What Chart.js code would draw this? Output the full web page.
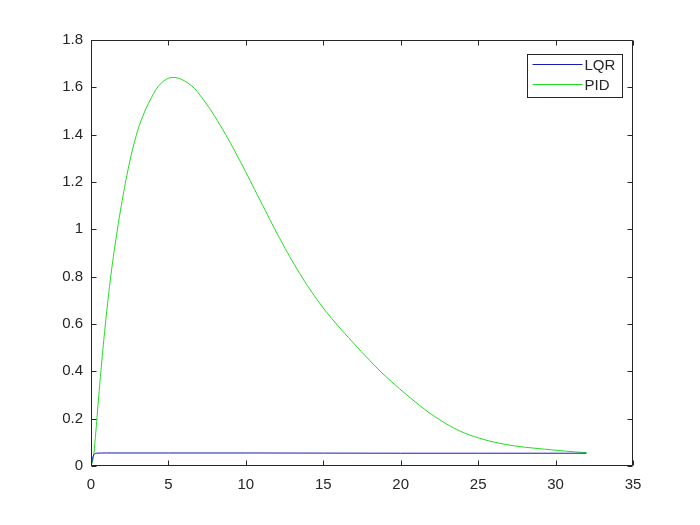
<!DOCTYPE html>
<html>
<head>
<title>LQR vs PID response</title>
<script src="https://cdn.jsdelivr.net/npm/chart.js"></script>
<style>
  body { margin: 0; background: #fff; }
</style>
</head>
<body>
<canvas id="resp" width="700" height="525"></canvas>
<script>
// values
const seriesNames = ['LQR', 'PID'];
const seriesColors = ['#1a1ab4', '#22dd22'];

const lqrT = [0, 0.13, 0.34, 1, 5, 10, 15, 20, 25, 32];
const lqrY = [0, 0.04, 0.054, 0.055, 0.055, 0.055, 0.0545, 0.054, 0.054, 0.054];

const pidT = [0, 0.13, 0.28, 0.45, 0.67, 0.88, 1.1, 1.36, 1.7, 1.96, 2.39, 2.82, 3.25, 3.9, 4.54,
  5.3, 6.26, 7.04, 8.33, 9.62, 10.91, 12.2, 13.49, 14.78, 15.85, 16.93, 18.0, 19.09, 21.24, 22.53, 23.82,
  25.11, 26.4, 27.7, 29.0, 30.3, 31.57, 32];
const pidY = [0, 0.025, 0.12, 0.256, 0.423, 0.568, 0.704, 0.844, 0.997, 1.101, 1.252, 1.372, 1.462, 1.556, 1.618,
  1.642, 1.618, 1.567, 1.441, 1.289, 1.124, 0.96, 0.812, 0.687, 0.6, 0.521, 0.446, 0.375, 0.255, 0.195, 0.148,
  0.117, 0.096, 0.082, 0.073, 0.065, 0.058, 0.056];

const xTicks = [0, 5, 10, 15, 20, 25, 30, 35];
const yTicks = [0, 0.2, 0.4, 0.6, 0.8, 1, 1.2, 1.4, 1.6, 1.8];

const axisColor = '#262626';
const fontSpec = { family: 'Liberation Sans, Arial, sans-serif', size: 15 };

function toPoints(ts, ys) {
  return ts.map((t, i) => ({ x: t, y: ys[i] }));
}

// box, inward ticks on all four sides, legend inside the axes
const matlabAxes = {
  id: 'matlabAxes',
  afterDatasetsDraw(chart) {
    const { ctx, chartArea: a, scales: { x, y } } = chart;
    const L = Math.round(a.left) + 0.5, R = Math.round(a.right) - 0.5;
    const T = Math.round(a.top) + 0.5, B = Math.round(a.bottom) - 0.5;
    ctx.save();
    ctx.strokeStyle = axisColor;
    ctx.lineWidth = 1;
    ctx.beginPath();
    ctx.rect(L, T, R - L, B - T);
    xTicks.forEach(v => {
      const px = Math.round(x.getPixelForValue(v)) + 0.5;
      ctx.moveTo(px, B); ctx.lineTo(px, B - 5);
      ctx.moveTo(px, T); ctx.lineTo(px, T + 5);
    });
    yTicks.forEach(v => {
      const py = Math.round(y.getPixelForValue(v)) + 0.5;
      ctx.moveTo(L, py); ctx.lineTo(L + 5, py);
      ctx.moveTo(R, py); ctx.lineTo(R - 5, py);
    });
    ctx.stroke();

    // legend
    const bw = 95, bh = 43;
    const bx = Math.round(a.right) - 11 - bw + 0.5;
    const by = Math.round(a.top) + 14 + 0.5;
    ctx.fillStyle = '#fff';
    ctx.fillRect(bx, by, bw, bh);
    ctx.strokeRect(bx, by, bw, bh);
    ctx.font = fontSpec.size + 'px ' + fontSpec.family;
    ctx.textBaseline = 'middle';
    ctx.textAlign = 'left';
    chart.data.datasets.forEach((ds, i) => {
      const ly = by + 10 + i * 20;
      ctx.strokeStyle = ds.borderColor;
      ctx.beginPath();
      ctx.moveTo(bx + 5, ly);
      ctx.lineTo(bx + 55, ly);
      ctx.stroke();
      ctx.fillStyle = axisColor;
      ctx.fillText(ds.label, bx + 57, ly + 1);
    });
    ctx.restore();
  }
};

new Chart(document.getElementById('resp'), {
  type: 'line',
  data: {
    datasets: [
      { label: seriesNames[0], data: toPoints(lqrT, lqrY), borderColor: seriesColors[0],
        cubicInterpolationMode: 'monotone' },
      { label: seriesNames[1], data: toPoints(pidT, pidY), borderColor: seriesColors[1],
        tension: 0.4 }
    ]
  },
  options: {
    responsive: false,
    animation: false,
    events: [],
    layout: { padding: { top: 40, right: 67, left: 0, bottom: 0 } },
    elements: {
      point: { radius: 0 },
      line: { borderWidth: 1, fill: false }
    },
    plugins: { legend: { display: false }, tooltip: { enabled: false } },
    scales: {
      x: {
        type: 'linear',
        min: 0,
        max: 35,
        grid: { display: false, drawTicks: false },
        border: { display: false },
        afterBuildTicks: s => { s.ticks = xTicks.map(v => ({ value: v })); },
        afterFit: s => { s.height = 59; s.paddingLeft = 0; s.paddingRight = 0; },
        ticks: { color: axisColor, font: fontSpec, padding: 10, maxRotation: 0, callback: v => String(v) }
      },
      y: {
        type: 'linear',
        min: 0,
        max: 1.8,
        grid: { display: false, drawTicks: false },
        border: { display: false },
        afterBuildTicks: s => { s.ticks = yTicks.map(v => ({ value: v })); },
        afterFit: s => { s.width = 91; s.paddingTop = 0; s.paddingBottom = 0; },
        ticks: { color: axisColor, font: fontSpec, padding: 8, callback: v => String(v) }
      }
    }
  },
  plugins: [matlabAxes]
});
</script>
</body>
</html>
